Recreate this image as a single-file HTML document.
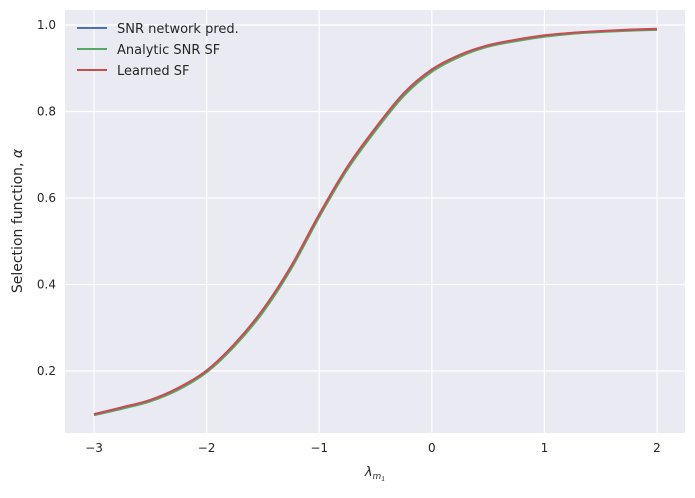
<!DOCTYPE html>
<html><head><meta charset="utf-8"><style>
body{margin:0;background:#fff;font-family:"Liberation Sans","DejaVu Sans",sans-serif;}
svg text{font-family:"DejaVu Sans","Liberation Sans",sans-serif;fill:#262626;}
</style></head><body>
<svg id="chart" width="695" height="493" viewBox="0 0 695 493" xmlns="http://www.w3.org/2000/svg">
<rect x="65" y="10" width="620" height="423" fill="#eaeaf2"/>
<g id="grid"></g>
<g id="series"></g>
<g id="ticks"></g>
<text x="375" y="476" text-anchor="middle" font-size="13" font-style="italic">λ<tspan font-size="9" dy="3">m</tspan><tspan font-size="6" dy="2">1</tspan></text>
<text transform="translate(22,221) rotate(-90)" text-anchor="middle" font-size="14">Selection function, <tspan font-style="italic">α</tspan></text>
<g>
<line x1="77" y1="28" x2="107" y2="28" stroke="#4c72b0" stroke-width="2"/>
<text x="117" y="33" font-size="13">SNR network pred.</text>
<line x1="77" y1="49" x2="107" y2="49" stroke="#55a868" stroke-width="2"/>
<text x="117" y="54" font-size="13">Analytic SNR SF</text>
<line x1="77" y1="70" x2="107" y2="70" stroke="#c44e52" stroke-width="2"/>
<text x="117" y="75" font-size="13">Learned SF</text>
</g>
</svg>
<script>
const xValues=[-3,-2.75,-2.5,-2.25,-2,-1.75,-1.5,-1.25,-1,-0.75,-0.5,-0.25,0,0.25,0.5,0.75,1,1.25,1.5,1.75,2];
const snrNetwork=[0.100,0.115,0.132,0.160,0.200,0.262,0.340,0.440,0.560,0.670,0.760,0.840,0.895,0.930,0.952,0.965,0.975,0.981,0.985,0.988,0.990];
const analyticSF=[0.098,0.113,0.130,0.157,0.197,0.258,0.336,0.436,0.556,0.666,0.756,0.836,0.892,0.927,0.950,0.963,0.973,0.980,0.984,0.987,0.989];
const learnedSF=[0.100,0.116,0.133,0.161,0.201,0.263,0.342,0.442,0.562,0.672,0.762,0.842,0.897,0.931,0.953,0.966,0.976,0.982,0.986,0.989,0.991];
const xTicks=[-3,-2,-1,0,1,2];
const yTicks=[0.2,0.4,0.6,0.8,1.0];
const NS="http://www.w3.org/2000/svg";
const X=v=>94+(v+3)*112.6;
const Y=v=>371-(v-0.2)*432.5;
const grid=document.getElementById('grid'),ticks=document.getElementById('ticks'),ser=document.getElementById('series');
function mk(t,a,p){const e=document.createElementNS(NS,t);for(const k in a)e.setAttribute(k,a[k]);p.appendChild(e);return e;}
xTicks.forEach(t=>{
 const l=mk('line',{x1:X(t),x2:X(t),y1:10,y2:433,stroke:'#fff','stroke-width':1.2},grid);
 
 
 const tx=mk('text',{x:X(t),y:452,'text-anchor':'middle','font-size':12},ticks);
 tx.textContent=(t<0?'−'+(-t):String(t));
 
 
});
yTicks.forEach(t=>{
 const l=mk('line',{x1:65,x2:685,y1:Y(t),y2:Y(t),stroke:'#fff','stroke-width':1.2},grid);
 
 
 const tx=mk('text',{x:56,y:Y(t)+4,'text-anchor':'end','font-size':12},ticks);
 tx.textContent=t.toFixed(1);
 
 
});
function path(vals){
 const p=xValues.map((x,i)=>[X(x),Y(vals[i])]);
 let d='M'+p[0][0]+','+p[0][1];
 for(let i=0;i<p.length-1;i++){
  const p0=p[Math.max(0,i-1)],p1=p[i],p2=p[i+1],p3=p[Math.min(p.length-1,i+2)];
  const c1=[p1[0]+(p2[0]-p0[0])/6,p1[1]+(p2[1]-p0[1])/6];
  const c2=[p2[0]-(p3[0]-p1[0])/6,p2[1]-(p3[1]-p1[1])/6];
  d+=' C'+c1+' '+c2+' '+p2;
 }
 return d;
}
[[snrNetwork,'#4c72b0','snr-network-line'],[analyticSF,'#55a868','analytic-sf-line'],[learnedSF,'#c44e52','learned-sf-line']].forEach(([v,c,n])=>{
 const e=mk('path',{d:path(v),fill:'none',stroke:c,'stroke-width':2.2},ser);
 
 
});
</script>
</body></html>
